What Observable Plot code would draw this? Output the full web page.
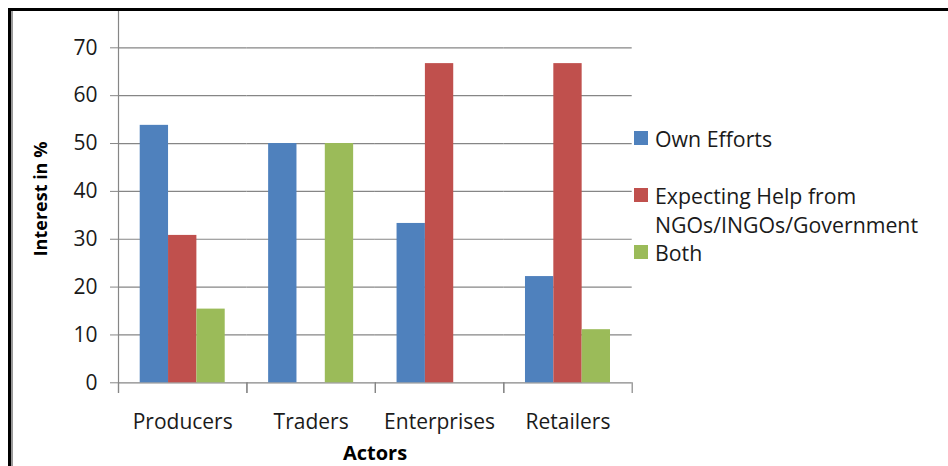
<!DOCTYPE html>
<html><head><meta charset="utf-8">
<script src="https://cdn.jsdelivr.net/npm/d3@7"></script>
<script src="https://cdn.jsdelivr.net/npm/@observablehq/plot@0.6"></script>
<style>
html,body{margin:0;padding:0;background:#fff;}
#wrap{position:relative;width:948px;height:466px;overflow:hidden;font-family:"Open Sans",sans-serif;color:#1a1a1a;}
#chart{position:absolute;left:0;top:0;}
.bt{position:absolute;left:8px;top:8px;width:940px;height:2.7px;background:#000;}
.bl{position:absolute;left:8.3px;top:8px;width:2.7px;height:458px;background:#000;}
.bs{position:absolute;left:11px;top:10.7px;width:1.7px;height:456px;background:#9a9a9a;}
.leg{position:absolute;left:655px;font-size:21.3px;line-height:29px;white-space:nowrap;}
.sw{position:absolute;left:634px;width:14px;height:14px;}
.ytitle{position:absolute;left:40px;top:199px;transform:translate(-50%,-50%) rotate(-90deg);font-weight:bold;font-size:18px;white-space:nowrap;color:#000;}
.xtitle{position:absolute;left:375px;top:452px;transform:translate(-50%,-50%);font-weight:bold;font-size:20px;white-space:nowrap;color:#000;}
</style>
</head><body>
<div id="wrap">
  <div id="chart"></div>
  <div class="bt"></div><div class="bl"></div><div class="bs"></div>
  <div id="legend"></div>
  <div class="ytitle">Interest in %</div>
  <div class="xtitle">Actors</div>
</div>
<script>
const categories = ["Producers", "Traders", "Enterprises", "Retailers"];
const series = ["Own Efforts", "Expecting Help from NGOs/INGOs/Government", "Both"];
const seriesLines = [["Own Efforts"], ["Expecting Help from", "NGOs/INGOs/Government"], ["Both"]];
const ownEfforts = [53.8, 50, 33.3, 22.2];
const expectingHelp = [30.8, 0, 66.7, 66.7];
const both = [15.4, 50, 0, 11.1];
const yTicks = [0, 10, 20, 30, 40, 50, 60, 70];
const colors = ["#4F81BD", "#C0504D", "#9BBB59"];

const valuesBySeries = [ownEfforts, expectingHelp, both];
const rows = [];
categories.forEach((c, i) => series.forEach((s, j) => rows.push({category: c, series: s, value: valuesBySeries[j][i]})));

const W = 948, H = 466, mL = 118, mR = 316.3, mT = 10, mB = 83.7;
const plotH = H - mT - mB;
const grid = "#868686";

const chart = Plot.plot({
  width: W, height: H,
  marginLeft: mL, marginRight: mR, marginTop: mT, marginBottom: mB,
  style: {fontFamily: "Open Sans", fontSize: "21px", background: "transparent", overflow: "visible"},
  fx: {domain: categories, padding: 0, round: false, axis: null},
  x: {domain: series, paddingInner: 0, paddingOuter: 0.766, round: false, axis: null},
  y: {domain: [0, 77.8], axis: null},
  color: {domain: series, range: colors},
  marks: [
    Plot.ruleY(yTicks, {stroke: grid, strokeWidth: 1.2}),
    Plot.frame({anchor: "left", facetAnchor: "left", stroke: grid, strokeWidth: 1.2, insetBottom: -9.5}),
    Plot.frame({anchor: "left", stroke: grid, strokeWidth: 1.2, insetTop: plotH, insetBottom: -9.5}),
    Plot.frame({anchor: "right", stroke: grid, strokeWidth: 1.2, insetTop: plotH, insetBottom: -9.5}),
    Plot.barY(rows, {fx: "category", x: "series", y: "value", fill: "series"}),
    Plot.axisY({ticks: yTicks, tickSize: 8, tickPadding: 13, stroke: grid, fill: "#1a1a1a", fontSize: 21, label: null, tickFormat: d => String(d)}),
    Plot.axisFx({anchor: "bottom", tickSize: 0, tickPadding: 31, fill: "#1a1a1a", fontSize: 21, label: null})
  ]
});
document.getElementById("chart").appendChild(chart);

// legend
const legend = document.getElementById("legend");
const centers = [138, 195, 252];
series.forEach((s, j) => {
  const sw = document.createElement("div");
  sw.className = "sw";
  sw.style.top = (centers[j] - 7) + "px";
  sw.style.background = colors[j];
  legend.appendChild(sw);
  const t = document.createElement("div");
  t.className = "leg";
  t.style.top = (centers[j] - 14.5) + "px";
  t.innerHTML = seriesLines[j].join("<br>");
  legend.appendChild(t);
});
</script>
</body></html>
